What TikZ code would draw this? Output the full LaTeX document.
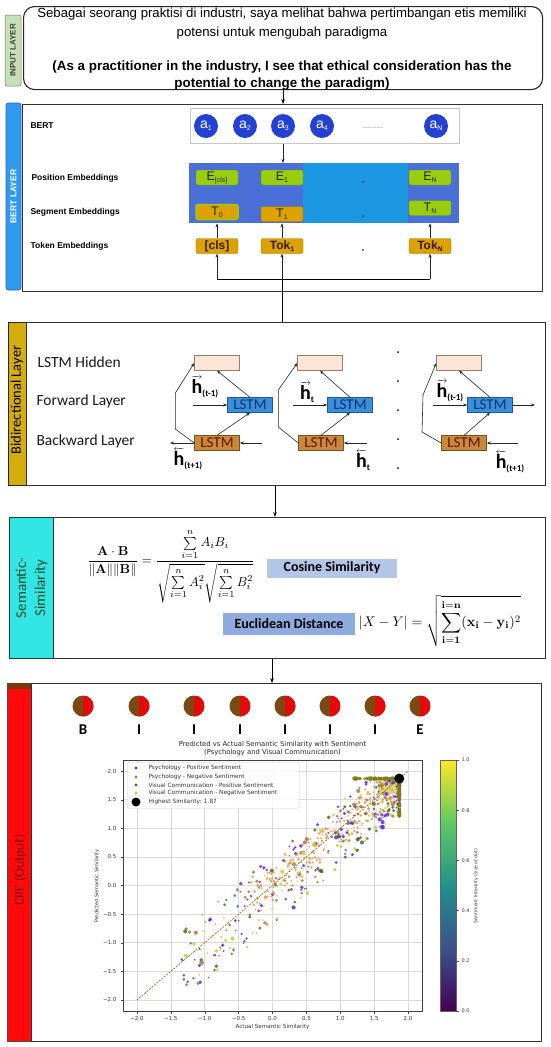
\documentclass[tikz,border=0pt]{standalone}
\usepackage[no-math]{fontspec}
\usepackage{amsmath}
\setmainfont{Liberation Sans}
\newfontfamily\carl{Carlito}
\newfontfamily\djv{DejaVu Sans}
\usetikzlibrary{arrows.meta,calc}
\definecolor{ingreen}{HTML}{C5E0B4}
\definecolor{bertblue}{HTML}{2E9BEF}
\definecolor{bertedge}{HTML}{3F5FC8}
\definecolor{ablue}{HTML}{2442D2}
\definecolor{embblue}{HTML}{4A70D8}
\definecolor{embcyan}{HTML}{1C97E2}
\definecolor{egreen}{HTML}{9ACD0E}
\definecolor{etext}{HTML}{1B2A00}
\definecolor{tokorange}{HTML}{DDA100}
\definecolor{toktext}{HTML}{3A1A00}
\definecolor{gold}{HTML}{D4AC0D}
\definecolor{lstmf}{HTML}{3A8FDC}
\definecolor{lstmftext}{HTML}{10306A}
\definecolor{lstmb}{HTML}{C8893A}
\definecolor{lstmbtext}{HTML}{6B1000}
\definecolor{hidpeach}{HTML}{FBE5D6}
\definecolor{semcyan}{HTML}{33E6E6}
\definecolor{semdark}{HTML}{0B4A28}
\definecolor{cosfill}{HTML}{B4C6E7}
\definecolor{eucfill}{HTML}{8FAADC}
\definecolor{crfred}{HTML}{FF0A0A}
\definecolor{crftext}{HTML}{7A0000}
\definecolor{crfbrown}{HTML}{7A3A10}
\definecolor{cbrown}{HTML}{7A4A12}
\definecolor{pp}{HTML}{5A2BE0}
\definecolor{pn}{HTML}{B07840}
\definecolor{vp}{HTML}{4C6B2E}
\definecolor{vn}{HTML}{C9C93A}
\definecolor{orng}{HTML}{F08A30}
\definecolor{olive}{HTML}{B5B520}
\definecolor{vir0}{HTML}{440154}
\definecolor{vir1}{HTML}{3B528B}
\definecolor{vir2}{HTML}{21918C}
\definecolor{vir3}{HTML}{5EC962}
\definecolor{vir4}{HTML}{FDE725}
\pgfdeclareverticalshading{viridis}{100bp}{color(0bp)=(vir0); color(25bp)=(vir0); color(37.5bp)=(vir1); color(50bp)=(vir2); color(62.5bp)=(vir3); color(75bp)=(vir4); color(100bp)=(vir4)}
\newcommand\lsub[1]{\raisebox{-0.3ex}{\fontsize{7}{7}\selectfont #1}}
\newcommand\hfw[1]{{\carl\bfseries\fontsize{9}{9}\selectfont$\overrightarrow{\hbox{\fontsize{20}{20}\selectfont h}}$\raisebox{-3pt}{\fontsize{9}{9}\selectfont #1}}}
\newcommand\hbw[1]{{\carl\bfseries\fontsize{9}{9}\selectfont$\overleftarrow{\hbox{\fontsize{20}{20}\selectfont h}}$\raisebox{-3pt}{\fontsize{9}{9}\selectfont #1}}}
\begin{document}
\begin{tikzpicture}[x=1pt,y=-1pt,
  panel/.style={draw=black!80, line width=1.1pt, inner sep=0pt, anchor=north west},
  arr/.style={-{Stealth[length=5pt,width=3.6pt]}, line width=0.7pt, draw=black},
  sarr/.style={-{Stealth[length=4pt,width=3pt]}, line width=0.6pt, draw=black!85},
  blab/.style={anchor=west, font=\bfseries\fontsize{8.5}{8.5}\selectfont},
  llab/.style={anchor=west, font=\carl\fontsize{15.5}{15.5}\selectfont, text=black!90},
  acirc/.style={circle, fill=ablue, minimum size=24pt, inner sep=0pt, text=white, font=\fontsize{14}{14}\selectfont},
  ebox/.style={rounded corners=2pt, fill=egreen, draw=egreen!70!black, line width=0.3pt, minimum width=42pt, minimum height=15pt, inner sep=0pt, text=etext, font=\fontsize{12.5}{12.5}\selectfont},
  tbox/.style={rounded corners=2pt, fill=tokorange, draw=tokorange!70!black, line width=0.3pt, minimum width=42pt, minimum height=15pt, inner sep=0pt, text=toktext, font=\bfseries\fontsize{12}{12}\selectfont},
  hid/.style={fill=hidpeach, draw=gray!70!brown, line width=0.4pt, minimum width=45pt, minimum height=15pt, inner sep=0pt},
  lf/.style={fill=lstmf, draw=lstmf!60!black, line width=0.4pt, minimum width=45pt, minimum height=15pt, inner sep=0pt, text=lstmftext, font=\carl\fontsize{15}{15}\selectfont},
  lb/.style={fill=lstmb, draw=lstmb!60!black, line width=0.4pt, minimum width=45pt, minimum height=15pt, inner sep=0pt, text=lstmbtext, font=\carl\fontsize{15}{15}\selectfont},
  crfc/.style={circle, fill=cbrown, minimum size=21pt, inner sep=0pt, path picture={\fill[crfred!90!black] (path picture bounding box.north) rectangle (path picture bounding box.south east);}},
  crfl/.style={font=\carl\bfseries\fontsize{15}{15}\selectfont},
  tick/.style={font=\djv\fontsize{5.5}{5.5}\selectfont, text=black!80},
  leg/.style={anchor=west, font=\djv\fontsize{5.8}{5.8}\selectfont, text=black!80}
]
\useasboundingbox (0,0) rectangle (550,1047);
\fill[white] (0,0) rectangle (550,1047);

% ---------------- INPUT LAYER
\node[draw=black!55, fill=ingreen, rounded corners=2pt, line width=0.5pt, rotate=90, minimum width=71pt, minimum height=16pt, inner sep=0pt, font=\bfseries\fontsize{8}{8}\selectfont, text=black!75] (inlab) at (13,50.5) {INPUT LAYER};
\node[draw=black!85, line width=1.1pt, rounded corners=11pt, anchor=north west, minimum width=519pt, minimum height=83pt] (inbox) at (23,6) {};
\node[align=center, font=\fontsize{13.2}{19}\selectfont] (intxt1) at (282,24) {Sebagai seorang praktisi di industri, saya melihat bahwa pertimbangan etis memiliki\\potensi untuk mengubah paradigma};
\node[align=center, font=\bfseries\fontsize{13.4}{17}\selectfont] (intxt2) at (282,75.5) {(As a practitioner in the industry, I see that ethical consideration has the\\potential to change the paradigm)};

% ---------------- BERT LAYER
\node[fill=bertblue, draw=bertedge, line width=0.8pt, rounded corners=2.5pt, rotate=90, minimum width=187pt, minimum height=15pt, inner sep=0pt, text=white, font=\bfseries\fontsize{8.5}{8.5}\selectfont] (bertlab) at (13.5,196.5) {BERT LAYER};
\node[panel, minimum width=520pt, minimum height=187pt] (bertbox) at (22,104) {};
\draw[arr] (inbox.south) -- (inbox.south |- bertbox.north);

\node[blab] (lbert) at (27,126) {BERT};
\node[blab] (lpos) at (28,178) {Position Embeddings};
\node[blab] (lseg) at (27,212) {Segment Embeddings};
\node[blab] (ltok) at (27,246) {Token Embeddings};

\node[draw=gray!45, line width=0.8pt, anchor=north west, minimum width=269pt, minimum height=35pt, inner sep=0pt] (abox) at (190,108) {};
\node[acirc] (a1) at (206,126) {a\lsub{1}};
\node[acirc] (a2) at (245,126) {a\lsub{2}};
\node[acirc] (a3) at (283,126) {a\lsub{3}};
\node[acirc] (a4) at (322,126) {a\lsub{4}};
\node[acirc] (aN) at (436,126) {a\lsub{N}};
\node[font=\fontsize{6}{6}\selectfont, text=black!70] (adots) at (373,128) {............};

\node[fill=embblue, anchor=north west, minimum width=270pt, minimum height=60pt, inner sep=0pt] (emb) at (189,163) {};
\fill[embcyan] (303,163) rectangle (408,223);
\node[ebox] (Ecls) at (217,177.5) {E\lsub{[cls]}};
\node[ebox] (E1) at (282,177.5) {E\lsub{1}};
\node[ebox] (EN) at (430,177.5) {E\lsub{N}};
\node[tbox, draw=egreen, line width=1.5pt, font=\fontsize{12.5}{12.5}\selectfont, text=etext] (T0) at (217,212) {T\lsub{0}};
\node[tbox, font=\fontsize{12.5}{12.5}\selectfont, text=etext] (T1) at (282,214) {T\lsub{1}};
\node[ebox] (TN) at (430,208) {T\lsub{N}};
\node[tbox] (cls) at (217,246) {[cls]};
\node[tbox] (tok1) at (282,246) {Tok\lsub{1}};
\node[tbox] (tokN) at (430,246) {Tok\lsub{N}};
\fill (363,182) circle[radius=0.9pt];
\fill (363,216) circle[radius=0.9pt];
\fill (363,250) circle[radius=0.9pt];

\draw[sarr] (a3.south |- abox.south) -- (a3.south |- emb.north);
\draw[sarr] (cls.north) -- (cls.north |- emb.south);
\draw[sarr] (tok1.north) -- (tok1.north |- emb.south);
\draw[sarr] (tokN.north) -- (tokN.north |- emb.south);
\coordinate (tl) at (217,279);
\coordinate (tm) at (282,279);
\coordinate (tr) at (430,279);
\draw[line width=0.7pt] (tl) -- (tr);
\draw[sarr] (tl) -- (cls.south);
\draw[sarr] (tm) -- (tok1.south);
\draw[sarr] (tr) -- (tokN.south);

% ---------------- BIDIRECTIONAL LAYER
\node[fill=gold, draw=black!85, line width=1pt, anchor=north west, minimum width=18pt, minimum height=163pt, inner sep=0pt] (bilab) at (8,322) {};
\node[rotate=90, font=\carl\fontsize{14.5}{14.5}\selectfont] (bitxt) at (17,400) {Bidirectional Layer};
\node[panel, minimum width=519pt, minimum height=163pt] (bibox) at (26,322) {};
\draw[line width=0.7pt] (tm) -- (tm |- bibox.north);

\node[llab] (lhid) at (34,362) {LSTM Hidden};
\node[llab] (lfw) at (33,401) {Forward Layer};
\node[llab] (lbw) at (33,441) {Backward Layer};

% cell 1
\node[hid] (h1) at (217,363) {};
\node[lf] (f1) at (250,405) {LSTM};
\node[lb] (b1) at (217,443) {LSTM};
\draw[sarr] (f1.north) -- (h1.south);
\draw[sarr] (b1.north) -- (f1.south);
\draw[sarr] (b1.west) -- ++(-19,-14) -- ++(0,-36) -- (h1.west);
\coordinate (bo1) at (170,443);
\coordinate (bi1) at (262,443);
\coordinate (fi1) at (193,405);
\draw[sarr] (b1.west) -- (bo1);
\draw[sarr] (bi1) -- (b1.east);
\draw[sarr] (fi1) -- (f1.west);
\node (hl1) at (205,387) {\hfw{(t-1)}};
\node (hl2) at (188,459) {\hbw{(t+1)}};

% cell 2
\node[hid] (h2) at (320,363) {};
\node[lf] (f2) at (350,405) {LSTM};
\node[lb] (b2) at (321,443) {LSTM};
\draw[sarr] (f2.north) -- (h2.south);
\draw[sarr] (b2.north) -- (f2.south);
\draw[sarr] (b2.west) -- ++(-20,-16) -- ++(0,-37) -- (h2.west);
\coordinate (fi2) at (293,405);
\coordinate (bi2) at (367,443);
\draw[sarr] (fi2) -- (f2.west);
\draw[sarr] (bi2) -- (b2.east);
\node (hl3) at (307,392) {\hfw{t}};
\node (hl4) at (363,460) {\hbw{t}};

% cell 3
\node[hid] (h3) at (459,363) {};
\node[lf] (f3) at (490,405) {LSTM};
\node[lb] (b3) at (464,443) {LSTM};
\draw[sarr] (f3.north) -- (h3.south);
\draw[sarr] (b3.north) -- (f3.south);
\draw[sarr] (b3.west) -- (422,432) -- (423,395) -- (h3.west);
\coordinate (fi3) at (433,405);
\coordinate (fo3) at (535,405);
\coordinate (bi3) at (518,443);
\draw[sarr] (fi3) -- (f3.west);
\draw[sarr] (f3.east) -- (fo3);
\draw[sarr] (bi3) -- (b3.east);
\node (hl5) at (450,391) {\hfw{(t-1)}};
\node (hl6) at (510,462) {\hbw{(t+1)}};

\foreach \yy in {352,381,410,439,468} \fill (398,\yy) circle[radius=1pt];

% ---------------- SEMANTIC SIMILARITY
\node[fill=semcyan, draw=semdark, line width=1.1pt, anchor=north west, minimum width=44pt, minimum height=141pt, inner sep=0pt] (semlab) at (9,517) {};
\node[rotate=90, align=center, font=\carl\fontsize{15}{19}\selectfont, text=semdark] (semtxt) at (semlab.center) {Semantic-\\Similarity};
\node[panel, minimum width=492pt, minimum height=141pt] (sembox) at (53,517) {};
\coordinate (p1) at (275,0);
\draw[arr] (p1 |- bibox.south) -- (p1 |- sembox.north);

\node[scale=1.3] (cosf) at (171,566) {$\displaystyle \frac{\mathbf{A}\cdot\mathbf{B}}{\|\mathbf{A}\|\|\mathbf{B}\|}=\frac{\sum\limits_{i=1}^{n}A_iB_i}{\sqrt{\sum\limits_{i=1}^{n}A_i^2}\sqrt{\sum\limits_{i=1}^{n}B_i^2}}$};
\node[fill=cosfill, minimum width=130pt, minimum height=19pt, inner sep=0pt, font=\carl\bfseries\fontsize{14}{14}\selectfont] (cosl) at (332,568) {Cosine Similarity};
\node[fill=eucfill, minimum width=132pt, minimum height=22pt, inner sep=0pt, font=\carl\bfseries\fontsize{14}{14}\selectfont] (eucl) at (289,624) {Euclidean Distance};
\node[scale=1.4] (eucf) at (440,621) {$\displaystyle |X-Y|=\sqrt{\sum_{\mathbf{i=1}}^{\mathbf{i=n}}(\mathbf{x_i}-\mathbf{y_i})^2}$};

% ---------------- CRF
\node[fill=crfred, draw=black!70, line width=0.8pt, anchor=north west, minimum width=24pt, minimum height=358pt, inner sep=0pt] (crflab) at (7,683) {};
\fill[crfbrown] (7.4,683.4) rectangle (30.6,689);
\node[rotate=90, font=\carl\fontsize{13.5}{13.5}\selectfont, text=crftext] (crftxt) at (20,870) {CRF (Output)};
\node[panel, minimum width=510pt, minimum height=358pt] (crfbox) at (31,683) {};
\coordinate (p2) at (272,0);
\draw[arr] (p2 |- sembox.south) -- (p2 |- crfbox.north);

\foreach \xx/\ll [count=\i] in {83/B,139/I,194/I,240/I,285/I,330/I,375/I,420/E}{
  \node[crfc] (c\i) at (\xx,706) {};
  \node[crfl] (cl\i) at (\xx,730) {\ll};
}

% ---------------- PLOT
\node[font=\djv\fontsize{6.8}{8.2}\selectfont, align=center, text=black!85] (ptitle) at (272.5,749) {Predicted vs Actual Semantic Similarity with Sentiment\\(Psychology and Visual Communication)};
\begin{scope}
\clip (123,760) rectangle (422,1011);
\foreach \v in {-2,-1.5,...,2.01}{
  \draw[black!15, line width=0.5pt] ({272.5+67.8*\v},760) -- ({272.5+67.8*\v},1011);
  \draw[black!15, line width=0.5pt] (123,{885.5-57.2*\v}) -- (422,{885.5-57.2*\v});
}
\pgfmathsetseed{4242}
\fill[olive, opacity=0.55] ({272.5+1.55*67.8},{885.5-1.9*57.2}) rectangle ({272.5+1.9*67.8},{885.5-1.6*57.2});
\foreach \k in {1,...,560}{
  \pgfmathsetmacro\uu{rnd}
  \pgfmathsetmacro\xv{min(1.87,1.95-3.3*\uu^2.8)}
  \pgfmathsetmacro\yv{min(1.87,\xv-0.1+(0.4+0.25*\uu)*rand)}
  \pgfmathtruncatemacro\ci{4*rnd}
  \pgfmathsetmacro\rr{0.8+1.3*rnd}
  \ifcase\ci \def\col{pp}\or\def\col{pn}\or\def\col{vp}\else\def\col{vn}\fi
  \fill[\col, opacity=0.85] ({272.5+67.8*\xv},{885.5-57.2*\yv}) circle[radius=\rr pt];
}
\foreach \k in {1,...,200}{
  \pgfmathsetmacro\xv{-0.3+2.15*rnd}
  \pgfmathsetmacro\yv{min(1.87,\xv+0.3*rand)}
  \pgfmathsetmacro\rr{0.8+0.7*rnd}
  \fill[orng, opacity=0.8] ({272.5+67.8*\xv},{885.5-57.2*\yv}) circle[radius=\rr pt];
}
\foreach \k in {1,...,45}{
  \pgfmathsetmacro\xv{min(1.87,1.2+0.75*rnd)}
  \pgfmathsetmacro\rr{1.2+1.2*rnd}
  \fill[olive!70!black, opacity=0.8] ({272.5+67.8*\xv},{885.5-57.2*1.87}) circle[radius=\rr pt];
  \pgfmathsetmacro\yv{min(1.87,1.2+0.75*rnd)}
  \fill[olive!70!black, opacity=0.8] ({272.5+67.8*1.87},{885.5-57.2*\yv}) circle[radius=\rr pt];
}
\draw[cbrown!80!orange, line width=0.6pt, dash pattern=on 2pt off 1.2pt] ({272.5-2*67.8},{885.5+2*57.2}) -- ({272.5+2*67.8},{885.5-2*57.2});
\fill[black] ({272.5+1.87*67.8},{885.5-1.87*57.2}) circle[radius=5pt];
\end{scope}
\draw[black!75, line width=0.5pt] (123,760) rectangle (422,1011);
\foreach \v/\t in {-2/−2.0,-1.5/−1.5,-1/−1.0,-0.5/−0.5,0/0.0,0.5/0.5,1/1.0,1.5/1.5,2/2.0}{
  \draw[black!75, line width=0.4pt] ({272.5+67.8*\v},1011) -- ++(0,2.5);
  \node[tick, anchor=north] at ({272.5+67.8*\v},1013) {\t};
  \draw[black!75, line width=0.4pt] (123,{885.5-57.2*\v}) -- ++(-2.5,0);
  \node[tick, anchor=east] at (120,{885.5-57.2*\v}) {\t};
}
\node[tick, font=\djv\fontsize{5.6}{5.6}\selectfont] (xlab) at (272.5,1027) {Actual Semantic Similarity};
\node[tick, rotate=90, font=\djv\fontsize{5}{5}\selectfont] (ylab) at (97,886) {Predicted Semantic Similarity};

% legend
\node[draw=black!20, fill=white, fill opacity=0.85, rounded corners=1.5pt, anchor=north west, minimum width=172pt, minimum height=46pt, inner sep=0pt] (legbox) at (127,762) {};
\foreach \yy/\cc/\tt in {768/pp/Psychology - Positive Sentiment, 777/pn/Psychology - Negative Sentiment, 785/vp/Visual Communication - Positive Sentiment, 793/vn/Visual Communication - Negative Sentiment}{
  \fill[\cc] (136,\yy) circle[radius=1.6pt];
  \node[leg] at (145,\yy) {\tt};
}
\fill[black] (136,802) circle[radius=4.5pt];
\node[leg] (leglast) at (145,802) {Highest Similarity: 1.87};

% colorbar
\shade[shading=viridis] (440,760) rectangle (456,1011);
\draw[black!60, line width=0.4pt] (440,760) rectangle (456,1011);
\foreach \v/\t in {0/0.0,0.2/0.2,0.4/0.4,0.6/0.6,0.8/0.8,1/1.0}{
  \draw[black!70, line width=0.4pt] (456,{1011-251*\v}) -- ++(2.5,0);
  \node[tick, anchor=west, font=\djv\fontsize{5}{5}\selectfont] at (458,{1011-251*\v}) {\t};
}
\node[tick, rotate=90, font=\djv\fontsize{4.6}{4.6}\selectfont] (cblab) at (476,886) {Sentiment Intensity (size of dot)};
\end{tikzpicture}
\end{document}
